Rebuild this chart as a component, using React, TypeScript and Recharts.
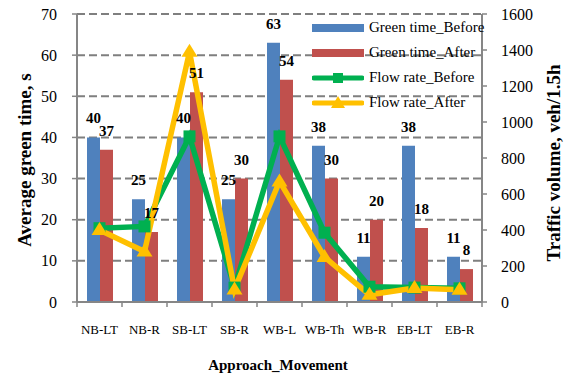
import React from 'react';
import { ComposedChart, Bar, Line, XAxis, YAxis, CartesianGrid, Legend, LabelList } from 'recharts';

const movements = ['NB-LT', 'NB-R', 'SB-LT', 'SB-R', 'WB-L', 'WB-Th', 'WB-R', 'EB-LT', 'EB-R'];
const greenBefore = [40, 25, 40, 25, 63, 38, 11, 38, 11];
const greenAfter = [37, 17, 51, 30, 54, 30, 20, 18, 8];
const flowBefore = [410, 420, 920, 80, 920, 385, 85, 80, 76];
const flowAfter = [400, 280, 1390, 70, 670, 250, 40, 78, 68];
const leftTicks = [0, 10, 20, 30, 40, 50, 60, 70];
const rightTicks = [0, 200, 400, 600, 800, 1000, 1200, 1400, 1600];

const data = movements.map((m, i) => ({
  movement: m,
  greenBefore: greenBefore[i],
  greenAfter: greenAfter[i],
  flowBefore: flowBefore[i],
  flowAfter: flowAfter[i],
}));

const SERIF = "'Liberation Serif', serif";
const BLUE = '#4F81BD';
const RED = '#C0504D';
const GREEN = '#00B050';
const YELLOW = '#FFC000';
const AXIS = '#868686';

const legendItems = [
  { name: 'Green time_Before', kind: 'bar', color: BLUE },
  { name: 'Green time_After', kind: 'bar', color: RED },
  { name: 'Flow rate_Before', kind: 'square', color: GREEN },
  { name: 'Flow rate_After', kind: 'triangle', color: YELLOW },
];

const SquareDot = (p: any) => {
  if (p.cx == null || p.cy == null) return <g key={p.index} />;
  return <rect key={p.index} x={p.cx - 6} y={p.cy - 6} width={12} height={12} fill={GREEN} />;
};

const TriangleDot = (p: any) => {
  if (p.cx == null || p.cy == null) return <g key={p.index} />;
  const { cx, cy } = p;
  return <polygon key={p.index} points={`${cx},${cy - 8} ${cx - 8},${cy + 5} ${cx + 8},${cy + 5}`} fill={YELLOW} />;
};

const LegendBox = () => (
  <div style={{ fontFamily: SERIF, fontSize: 15, color: '#000' }}>
    {legendItems.map((it) => (
      <div key={it.name} style={{ display: 'flex', alignItems: 'center', height: 25 }}>
        <svg width={52} height={14}>
          {it.kind === 'bar' ? (
            <rect x={0} y={3} width={52} height={8} fill={it.color} />
          ) : (
            <g>
              <line x1={2} y1={7} x2={50} y2={7} stroke={it.color} strokeWidth={5} strokeLinecap="round" />
              {it.kind === 'square' ? (
                <rect x={21} y={2} width={10} height={10} fill={it.color} />
              ) : (
                <polygon points="26,0 19,12 33,12" fill={it.color} />
              )}
            </g>
          )}
        </svg>
        <span style={{ marginLeft: 5, whiteSpace: 'nowrap', fontFamily: SERIF }}>{it.name}</span>
      </div>
    ))}
  </div>
);

// category ticks: label below, small tick marks at the band edges
const XTick = (p: any) => {
  const half = 22.5;
  const last = p.index === movements.length - 1;
  return (
    <g>
      <line x1={p.x - half} y1={302} x2={p.x - half} y2={307} stroke={AXIS} strokeWidth={1.5} />
      {last && <line x1={p.x + half} y1={302} x2={p.x + half} y2={307} stroke={AXIS} strokeWidth={1.5} />}
      <text x={p.x} y={p.y + 24} textAnchor="middle" fontFamily={SERIF} fontSize={13} fill="#000">
        {p.payload.value}
      </text>
    </g>
  );
};

const LeftTick = (p: any) => (
  <text x={p.x} y={p.y} textAnchor="end" dominantBaseline="central" fontFamily={SERIF} fontSize={16} fill="#000">
    {p.payload.value}
  </text>
);

const RightTick = (p: any) => (
  <text x={p.x} y={p.y} textAnchor="start" dominantBaseline="central" fontFamily={SERIF} fontSize={16} fill="#000">
    {p.payload.value}
  </text>
);

const BarLabel = (p: any) => (
  <text
    x={p.x + p.width / 2}
    y={p.y - 14}
    textAnchor="middle"
    fontFamily={SERIF}
    fontSize={15}
    fontWeight="bold"
    fill="#000"
  >
    {p.value}
  </text>
);

export default function App() {
  return (
    <div style={{ position: 'absolute', left: 0, top: 0, width: 568, height: 379, background: '#fff', fontFamily: SERIF }}>
      <ComposedChart
        width={568}
        height={379}
        data={data}
        margin={{ top: 14, right: 0, bottom: 0, left: 0 }}
        barGap={0}
      >
        <CartesianGrid yAxisId="left" vertical={false} stroke="#7F7F7F" strokeWidth={2} strokeDasharray="8 4" />
        <XAxis
          dataKey="movement"
          axisLine={{ stroke: AXIS, strokeWidth: 2 }}
          tickLine={false}
          tick={<XTick />}
          height={77}
          interval={0}
          label={{
            content: () => (
              <text x={278} y={370} textAnchor="middle" fontFamily={SERIF} fontSize={15} fontWeight="bold" fill="#000">
                Approach_Movement
              </text>
            ),
          }}
        />
        <YAxis
          yAxisId="left"
          domain={[0, 70]}
          ticks={leftTicks}
          width={77}
          axisLine={{ stroke: AXIS, strokeWidth: 2 }}
          tickLine={{ stroke: AXIS, strokeWidth: 1.5 }}
          tickSize={5}
          tickMargin={15}
          tick={<LeftTick />}
          label={{
            content: () => (
              <text
                x={24}
                y={160}
                transform="rotate(-90 24 160)"
                textAnchor="middle"
                dominantBaseline="central"
                fontFamily={SERIF}
                fontSize={19}
                fontWeight="bold"
                fill="#000"
              >
                Average green time, s
              </text>
            ),
          }}
        />
        <YAxis
          yAxisId="right"
          orientation="right"
          domain={[0, 1600]}
          ticks={rightTicks}
          width={86}
          axisLine={{ stroke: AXIS, strokeWidth: 2 }}
          tickLine={{ stroke: AXIS, strokeWidth: 1.5 }}
          tickSize={5}
          tickMargin={14}
          tick={<RightTick />}
          label={{
            content: () => (
              <text
                x={553}
                y={163}
                transform="rotate(-90 553 163)"
                textAnchor="middle"
                dominantBaseline="central"
                fontFamily={SERIF}
                fontSize={19}
                fontWeight="bold"
                fill="#000"
              >
                Traffic volume, veh/1.5h
              </text>
            ),
          }}
        />
        <Legend
          layout="vertical"
          align="center"
          verticalAlign="middle"
          content={<LegendBox />}
          wrapperStyle={{ left: 312, top: 15, width: 200 }}
        />
        <Bar yAxisId="left" dataKey="greenBefore" name="Green time_Before" fill={BLUE} barSize={13} isAnimationActive={false}>
          <LabelList dataKey="greenBefore" content={<BarLabel />} />
        </Bar>
        <Bar yAxisId="left" dataKey="greenAfter" name="Green time_After" fill={RED} barSize={13} isAnimationActive={false}>
          <LabelList dataKey="greenAfter" content={<BarLabel />} />
        </Bar>
        <Line
          yAxisId="right"
          dataKey="flowBefore"
          name="Flow rate_Before"
          stroke={GREEN}
          strokeWidth={5.5}
          dot={SquareDot}
          activeDot={false}
          isAnimationActive={false}
        />
        <Line
          yAxisId="right"
          dataKey="flowAfter"
          name="Flow rate_After"
          stroke={YELLOW}
          strokeWidth={5.5}
          dot={TriangleDot}
          activeDot={false}
          isAnimationActive={false}
        />
      </ComposedChart>
    </div>
  );
}
